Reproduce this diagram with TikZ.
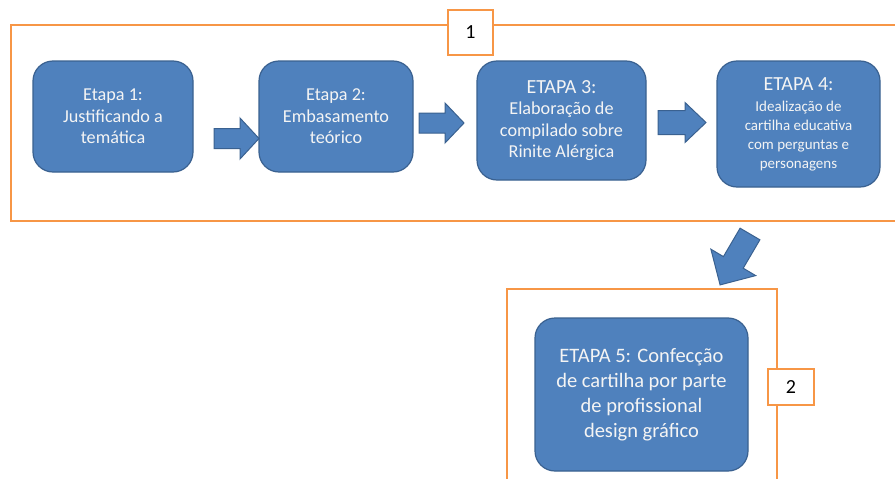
\documentclass[tikz,border=0pt]{standalone}
\usepackage{fontspec}
\setmainfont{Carlito}
\definecolor{boxblue}{HTML}{4F81BD}
\definecolor{boxedge}{HTML}{3A6190}
\definecolor{frameorange}{HTML}{F79646}
\definecolor{txt}{HTML}{F4F4F4}
\newcommand\bigline{\fontsize{20}{22}\selectfont}
\tikzset{
  stagebox/.style={rectangle, rounded corners=20pt, fill=boxblue, draw=boxedge, line width=1.2pt,
    text=txt, align=center, inner sep=2pt, font=\fontsize{18.2}{21.5}\selectfont},
  frame/.style={draw=frameorange, line width=1.8pt},
  tag/.style={rectangle, draw=frameorange, line width=1.8pt, fill=white, text=black,
    font=\fontsize{20}{22}\selectfont},
  barrow/.style={fill=boxblue, draw=boxedge, line width=1pt, line join=miter}
}
\begin{document}
\begin{tikzpicture}[x=1pt,y=-1pt]
\clip (0,0) rectangle (895,479);
\fill[white] (0,0) rectangle (895,479);
% frames
\draw[frame] (905,25) -- (11,25) -- (11,221) -- (905,221);
\draw[frame] (507,490) -- (507,289) -- (777,289) -- (777,490);
% stage boxes
\node[stagebox, minimum width=160pt, minimum height=111pt] (s1) at (113,116.5)
  {Etapa 1:\\Justificando a\\temática};
\node[stagebox, minimum width=154pt, minimum height=111pt] (s2) at (336,116.5)
  {Etapa 2:\\Embasamento\\teórico};
\node[stagebox, minimum width=169pt, minimum height=119pt] (s3) at (561.5,120.5)
  {\bigline ETAPA 3:\\Elaboração de\\compilado sobre\\Rinite Alérgica};
\node[stagebox, minimum width=163pt, minimum height=126pt, font=\fontsize{15}{19}\selectfont] (s4) at (798.5,124)
  {\bigline ETAPA 4:\\[2pt]Idealização de\\cartilha educativa\\com perguntas e\\personagens};
\node[stagebox, minimum width=213pt, minimum height=153pt, font=\fontsize{20.5}{25}\selectfont] (s5) at (641.5,394.5)
  {ETAPA 5: Confecção\\de cartilha por parte\\de profissional\\design gráfico};
% tags
\node[tag, minimum width=45pt, minimum height=45pt] (t1) at (470.5,32.5) {1};
\node[tag, minimum width=46pt, minimum height=36pt] (t2) at (791,387) {2};
% block arrows
\draw[barrow] (214,128.5)--(240,128.5)--(240,118)--(259,138.5)--(240,159)--(240,148.5)--(214,148.5)--cycle;
\draw[barrow] (419,113)--(445,113)--(445,103)--(464,123)--(445,143)--(445,133)--(419,133)--cycle;
\draw[barrow] (658,110.5)--(685,110.5)--(685,102.5)--(706,122.5)--(685,142.5)--(685,134.5)--(658,134.5)--cycle;
\draw[barrow] (740.1,228.2)--(759.9,239.8)--(743.2,268.2)--(755.7,275.6)--(720.1,284.9)--(710.9,249.2)--(723.4,256.6)--cycle;
\end{tikzpicture}
\end{document}
